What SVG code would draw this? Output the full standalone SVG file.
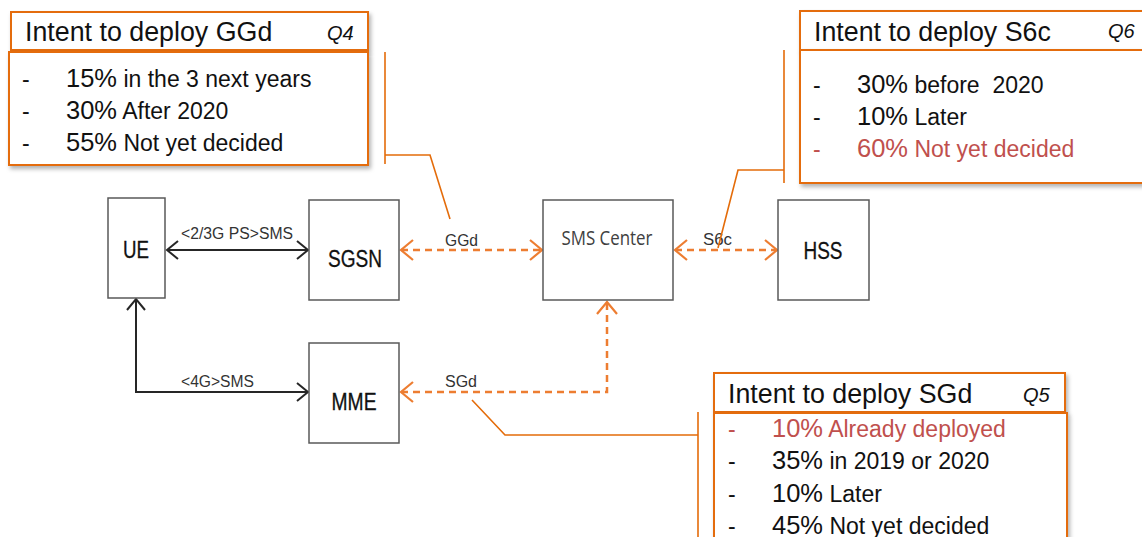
<svg xmlns="http://www.w3.org/2000/svg" width="1142" height="537" viewBox="0 0 1142 537">
<style>
.node{fill:#fff;stroke:#595959;stroke-width:1.5}
.nl{font-family:"Liberation Sans",Arial,sans-serif;font-size:23px;fill:#111;text-anchor:middle;stroke:#111;stroke-width:0.3}
.cl{font-family:"Liberation Sans",Arial,sans-serif;font-size:16px;fill:#333}
.solid{fill:none;stroke:#262626;stroke-width:2}
.dash{fill:none;stroke:#ED7D31;stroke-width:2.5;stroke-dasharray:7 5}
.call{fill:none;stroke:#E46C0A;stroke-width:1.6}
.box{fill:#fff;stroke:#E46C0A;stroke-width:2;filter:url(#sh)}
.hd{font-family:"Liberation Sans",Arial,sans-serif;font-size:26.8px;fill:#111}
.q{font-family:"Liberation Sans",Arial,sans-serif;font-size:20px;font-style:italic;fill:#111}
.bt{font-family:"Liberation Sans",Arial,sans-serif;font-size:23px;fill:#111}
.pc{font-size:25.5px}
.red{fill:#C0504D}
</style>
<defs>
<filter id="sh" x="-5%" y="-5%" width="115%" height="120%">
<feDropShadow dx="2" dy="3" stdDeviation="2" flood-color="#000" flood-opacity="0.3"/>
</filter>
<marker id="ab" markerUnits="userSpaceOnUse" markerWidth="26" markerHeight="26" viewBox="-13 -13 26 26" refX="0" refY="0" orient="auto-start-reverse">
<path d="M-11,-9 L0,0 L-11,9" fill="none" stroke="#262626" stroke-width="2"/>
</marker>
<marker id="ao" markerUnits="userSpaceOnUse" markerWidth="28" markerHeight="28" viewBox="-14 -14 28 28" refX="0" refY="0" orient="auto-start-reverse">
<path d="M-12,-10 L0,0 L-12,10" fill="none" stroke="#ED7D31" stroke-width="2.2"/>
</marker>
</defs>
<rect width="1142" height="537" fill="#fff"/>

<g id="connectors">
<path class="solid" d="M167,250 H308" marker-start="url(#ab)" marker-end="url(#ab)"/>
<path class="solid" d="M136,299 V392 H308" marker-start="url(#ab)" marker-end="url(#ab)"/>
<path class="dash" d="M401,250 H542" marker-start="url(#ao)" marker-end="url(#ao)"/>
<path class="dash" d="M675,250 H777" marker-start="url(#ao)" marker-end="url(#ao)"/>
<path class="dash" d="M401,392 H607 V302" marker-start="url(#ao)" marker-end="url(#ao)"/>
<text class="cl" x="181" y="239" textLength="112" lengthAdjust="spacingAndGlyphs">&lt;2/3G PS&gt;SMS</text>
<text class="cl" x="181" y="387" textLength="73" lengthAdjust="spacingAndGlyphs">&lt;4G&gt;SMS</text>
<text class="cl" x="445" y="246" textLength="33" lengthAdjust="spacingAndGlyphs">GGd</text>
<text class="cl" x="445" y="387" textLength="32" lengthAdjust="spacingAndGlyphs">SGd</text>
<text class="cl" x="703" y="245" textLength="29" lengthAdjust="spacingAndGlyphs">S6c</text>
</g>

<g id="UE">
<rect class="node" x="108" y="198" width="57" height="100"/>
<text class="nl" x="136" y="258" font-size="25" textLength="26" lengthAdjust="spacingAndGlyphs">UE</text>
</g>
<g id="SGSN">
<rect class="node" x="309" y="200" width="90" height="100"/>
<text class="nl" x="355" y="267" textLength="54" lengthAdjust="spacingAndGlyphs">SGSN</text>
</g>
<g id="MME">
<rect class="node" x="309" y="343" width="90" height="100"/>
<text class="nl" x="354" y="410" textLength="45" lengthAdjust="spacingAndGlyphs">MME</text>
</g>
<g id="SMSCenter">
<rect class="node" x="543" y="200" width="130" height="100"/>
<text x="607" y="245" font-family="'Open Sans','Noto Sans',sans-serif" font-size="20" fill="#404040" text-anchor="middle" textLength="91" lengthAdjust="spacingAndGlyphs">SMS Center</text>
</g>
<g id="HSS">
<rect class="node" x="778" y="200" width="91" height="100"/>
<text class="nl" x="823" y="259" textLength="39" lengthAdjust="spacingAndGlyphs">HSS</text>
</g>

<g id="callouts">
<path class="call" d="M385,52 V164 M385,155 H430 L450,219"/>
<path class="call" d="M784,50 V183 M784,170 H738 L718,248"/>
<path class="call" d="M698,412 V537 M698,435 H505 L472,400"/>
</g>

<g id="GGdBox">
<rect class="box" x="11" y="12" width="357" height="38"/>
<rect class="box" x="9" y="52" width="359" height="113"/>
<text class="hd" x="25" y="41">Intent to deploy GGd</text>
<text class="q" x="327" y="40">Q4</text>
<text class="bt" x="22" y="87">-</text>
<text class="bt" x="66" y="87"><tspan class="pc">15%</tspan> in the 3 next years</text>
<text class="bt" x="22" y="119">-</text>
<text class="bt" x="66" y="119"><tspan class="pc">30%</tspan> After 2020</text>
<text class="bt" x="22" y="151">-</text>
<text class="bt" x="66" y="151"><tspan class="pc">55%</tspan> Not yet decided</text>
</g>

<g id="S6cBox">
<rect class="box" x="800" y="11" width="350" height="39"/>
<rect class="box" x="800" y="50" width="350" height="133"/>
<text class="hd" x="814" y="41">Intent to deploy S6c</text>
<text class="q" x="1108" y="38">Q6</text>
<text class="bt" x="813" y="93">-</text>
<text class="bt" x="857" y="93" xml:space="preserve"><tspan class="pc">30%</tspan> before  2020</text>
<text class="bt" x="813" y="125">-</text>
<text class="bt" x="857" y="125"><tspan class="pc">10%</tspan> Later</text>
<text class="bt red" x="813" y="157">-</text>
<text class="bt red" x="857" y="157"><tspan class="pc">60%</tspan> Not yet decided</text>
</g>

<g id="SGdBox">
<rect class="box" x="714" y="373" width="351" height="39"/>
<rect class="box" x="714" y="413" width="353" height="140"/>
<text class="hd" x="728" y="403">Intent to deploy SGd</text>
<text class="q" x="1023" y="402">Q5</text>
<text class="bt red" x="728" y="437">-</text>
<text class="bt red" x="772" y="437"><tspan class="pc">10%</tspan> Already deployed</text>
<text class="bt" x="728" y="469">-</text>
<text class="bt" x="772" y="469"><tspan class="pc">35%</tspan> in 2019 or 2020</text>
<text class="bt" x="728" y="502">-</text>
<text class="bt" x="772" y="502"><tspan class="pc">10%</tspan> Later</text>
<text class="bt" x="728" y="534">-</text>
<text class="bt" x="772" y="534"><tspan class="pc">45%</tspan> Not yet decided</text>
</g>
</svg>
